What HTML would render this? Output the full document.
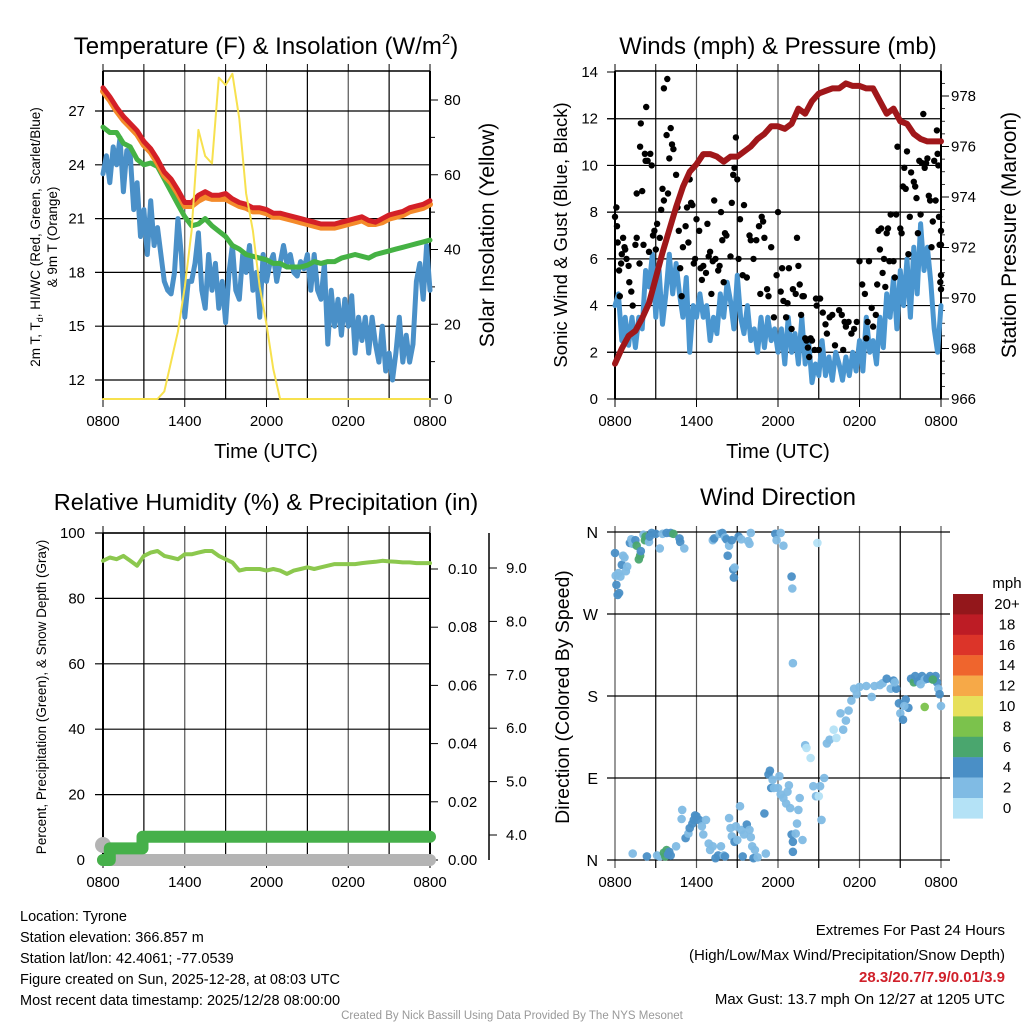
<!DOCTYPE html>
<html><head><meta charset="utf-8"><style>
html,body{margin:0;padding:0;background:#fff;}
svg{display:block;font-family:"Liberation Sans",sans-serif;}
</style></head><body>
<svg id="root" width="1024" height="1024" viewBox="0 0 1024 1024"></svg>
<script>
// ---------- DATA ----------
const hoursHalf = []; for (let i = 0; i <= 48; i++) hoursHalf.push(i * 0.5);
const hoursQ = []; for (let i = 0; i <= 96; i++) hoursQ.push(i * 0.25);
const xTickLabels = ["0800","1400","2000","0200","0800"];
const tempTicks = [12,15,18,21,24,27];
const solarTicks = [0,20,40,60,80];
const windTicks = [0,2,4,6,8,10,12,14];
const presTicks = [966,968,970,972,974,976,978];
const rhTicks = [0,20,40,60,80,100];
const precipTicks = [0,0.02,0.04,0.06,0.08,0.10];
const snowTicks = [4,5,6,7,8,9];
const dirTicks = ["N","E","S","W","N"];
const tempRed = [28.3,27.8,27.2,26.7,26.3,25.9,25.3,24.9,24.3,23.6,23.2,22.6,21.9,21.9,22.3,22.5,22.3,22.3,22.4,22.1,21.9,21.8,21.6,21.6,21.5,21.3,21.3,21.2,21.1,21.0,20.9,20.8,20.7,20.7,20.7,20.8,20.9,21.0,21.1,20.9,20.8,21.0,21.2,21.3,21.4,21.6,21.7,21.8,22.0];
const temp9m = [28.1,27.6,27.0,26.5,26.1,25.7,25.1,24.7,24.1,23.4,23.0,22.4,21.7,21.7,22.0,22.2,22.1,22.1,22.1,21.9,21.7,21.6,21.4,21.4,21.3,21.1,21.1,21.0,20.9,20.8,20.7,20.6,20.5,20.5,20.5,20.6,20.7,20.8,20.9,20.7,20.7,20.8,21.0,21.1,21.2,21.4,21.5,21.6,21.8];
const dewGreen = [26.1,25.8,25.8,25.2,25.0,24.3,24.0,24.1,23.9,23.2,22.5,21.8,21.1,20.6,20.7,21.0,20.6,20.3,20.0,19.5,19.3,19.0,18.9,18.8,18.7,18.5,18.5,18.3,18.3,18.3,18.4,18.6,18.5,18.6,18.6,18.8,18.9,19.0,18.9,18.8,19.0,19.1,19.2,19.3,19.4,19.5,19.6,19.7,19.8];
const windChill = [23.5,24.5,23,25,24,25.5,22.5,24.8,24.5,21.5,23,20,21.5,19,22,19.5,20.5,19,17.5,17,16.8,18,21,19,15.5,17.5,17.5,18.5,20.2,17,16,19,17,18.5,16,17.5,15.2,18,19.5,17,16.5,19,18,19.5,17,18,15.5,19,17.5,18.5,19,17.5,18.5,19.5,18.5,19,18,17.8,18.6,18.2,19,17,19,17,16.5,18.5,14,17,15,16.5,14.5,16.5,15,16.7,13.5,15.5,14.2,15.5,13.5,15.5,14,13,15,12.5,13.5,12,13.5,15.5,13,14.5,13,14,17.5,18.5,16.5,19.5,17];
const solar = [0,0,0,0,0,0,0,0,0,2,10,18,30,45,72,65,63,86,84,87,75,55,45,30,20,8,0,0,0,0,0,0,0,0,0,0,0,0,0,0,0,0,0,0,0,0,0,0,0];
const pressure = [967.4,968.0,968.5,968.7,969.2,969.8,970.8,971.8,972.7,973.6,974.4,975.0,975.3,975.7,975.7,975.6,975.4,975.6,975.6,975.8,976.0,976.3,976.5,976.8,976.8,976.7,976.9,977.5,977.3,977.8,978.1,978.2,978.3,978.3,978.5,978.4,978.4,978.3,978.3,977.8,977.3,977.5,977.0,976.9,976.5,976.3,976.2,976.2,976.2];
const windSpeed = [4.0,4.5,2.5,3.5,2.3,3.5,2.2,3.5,3.0,5.5,4.8,6.2,3.5,5.5,3.2,4.5,6.2,4.5,5.8,4.5,3.5,5.2,2.0,4.0,3.5,4.5,3.5,4.0,2.5,3.5,2.8,4.5,3.5,5.0,4.2,3.0,5.3,3.5,2.8,4.0,2.5,3.0,2.0,3.5,2.2,3.5,2.5,3.0,2.0,3.0,1.5,3.5,2.0,2.8,1.5,3.5,1.5,2.5,0.7,1.5,1.0,2.5,1.0,1.8,0.8,2.0,1.5,0.8,1.8,1.0,2.0,1.2,2.5,1.2,3.5,2.0,2.5,1.5,3.5,2.2,4.5,3.5,5.2,3.0,5.5,4.0,6.0,3.5,6.5,4.5,7.5,5.5,6.5,5.0,3.0,2.0,4.0];
const gustHour = [0,0.1,0.15,0.2,0.3,0.35,0.45,0.5,0.6,0.7,0.75,0.85,1,1.05,1.2,1.3,1.5,1.6,1.6,1.8,1.85,1.9,2.0,2.1,2.2,2.25,2.3,2.4,2.5,2.6,2.7,2.8,2.9,3.0,3.1,3.3,3.4,3.5,3.6,3.6,3.8,3.85,3.9,4.0,4.1,4.2,4.3,4.5,4.6,4.7,4.8,4.9,5.0,5.2,5.3,5.4,5.5,5.6,5.7,5.8,5.9,6.0,6.2,6.3,6.4,6.5,6.7,6.8,6.9,7.0,7.1,7.2,7.3,7.4,7.6,7.7,7.8,7.9,8.0,8.1,8.2,8.5,8.6,8.7,8.8,8.9,9.0,9.1,9.2,9.4,9.5,9.7,9.9,10.0,10.2,10.4,10.6,10.7,10.8,10.9,11.0,11.2,11.3,11.5,11.7,11.9,12.0,12.2,12.3,12.4,12.6,12.7,12.8,13.0,13.1,13.3,13.4,13.5,13.6,13.7,13.8,13.9,14.0,14.1,14.2,14.3,14.4,14.5,14.7,14.8,14.85,15.0,15.1,15.3,15.5,15.6,15.8,16.0,16.2,16.5,16.7,16.8,16.9,17.0,17.2,17.4,17.6,17.8,18.0,18.2,18.4,18.5,18.6,18.7,18.9,19.0,19.2,19.3,19.4,19.5,19.6,19.7,19.8,19.9,20.0,20.1,20.2,20.3,20.5,20.6,20.7,20.8,21.0,21.1,21.2,21.3,21.4,21.5,21.6,21.7,21.8,22.0,22.1,22.2,22.3,22.4,22.5,22.6,22.7,22.8,22.9,23.0,23.1,23.2,23.3,23.4,23.5,23.6,23.7,23.75,23.8,23.85,23.9,24.0,24.0,24.0,24.0,23.95];
const gustValue = [7.8,8.2,7.4,6.7,5.5,4.4,5.8,6.2,6.9,6.5,6.4,6.0,5.7,5.0,4.6,4.0,6.6,6.9,8.8,5.8,10.8,11.8,8.9,6.6,10.5,10.2,12.5,10.2,6.3,10.5,10.0,7.0,7.2,6.4,7.5,6.9,8.1,9.0,8.5,13.3,11.3,13.7,8.8,10.3,11.6,10.9,10.7,9.6,8.2,7.2,5.6,4.4,6.5,7.4,8.2,6.7,9.4,8.4,8.3,5.8,6.0,7.7,7.2,5.6,5.1,5.7,5.4,7.5,6.1,6.3,4.5,5.9,8.5,6.0,5.5,5.7,8.0,6.8,5.0,7.1,7.0,6.1,8.4,9.6,9.9,11.2,9.4,6.0,7.7,5.3,8.3,5.2,7.0,6.8,6.0,6.8,7.4,4.5,7.8,7.6,6.9,4.7,4.4,6.5,3.5,5.3,8.0,4.6,5.6,4.2,3.5,4.1,5.6,3.0,4.7,4.5,6.9,5.7,4.9,3.6,4.4,4.4,2.6,2.5,2.2,1.8,2.6,2.5,2.1,4.3,4.0,2.1,4.3,3.7,3.2,2.8,3.5,3.6,2.3,3.8,3.6,2.1,3.3,3.1,3.3,2.8,3.0,3.3,5.9,4.9,4.5,2.6,3.3,5.9,3.9,3.1,3.6,4.9,7.2,6.4,7.3,5.4,6.0,4.8,7.1,7.3,5.9,7.9,5.9,5.2,7.9,10.8,7.3,7.1,9.1,9.9,9.0,10.6,6.2,7.8,9.7,9.3,9.1,8.6,7.1,10.2,7.9,10.1,12.2,9.9,10.1,10.3,8.7,8.5,6.5,7.6,10.2,8.5,11.5,10.5,10.0,7.8,6.6,4.7,5.3,6.6,7.2,5.0];
const rh = [91.5,92.5,92,93,91.5,90,93,94,94.5,93,92.5,92,93.5,93.5,94,94.5,94.5,93,92,91,88.5,89,89,89,88.5,89,88.5,87.5,88.5,89,89.5,89,89.5,90,90.5,90.5,90.5,90.5,90.8,91,91.2,91.5,91.3,91.2,91,91,90.8,90.8,90.8];
const precipHour = [0,0.5,0.5,2.9,2.9,24];
const precipValue = [0,0,0.004,0.004,0.008,0.008];
const snowHour = [0,24];
const snowValue = [0,0];
const dirHour = [0,0.05,0.1,0.2,0.25,0.3,0.4,0.5,0.6,0.7,0.8,0.9,1.1,1.2,1.3,1.5,1.6,1.75,1.85,1.9,2.1,2.2,2.25,2.5,2.55,2.7,3.0,3.3,3.5,3.8,4.1,4.3,4.75,4.8,5.1,7.2,7.3,7.7,7.9,8.1,8.2,8.3,8.4,8.6,8.7,8.8,8.75,9.1,9.3,9.8,9.9,10.0,11.8,11.9,12.2,12.4,13.0,13.05,13.1,14.9,
 1.3,2.35,3.1,3.3,3.6,3.7,3.8,3.9,4.0,4.1,4.5,4.9,4.95,5.2,5.4,5.5,5.7,5.8,5.9,6.0,6.2,6.4,6.5,6.7,6.9,7.0,7.2,7.4,7.6,7.8,8.0,8.1,8.4,8.5,8.6,8.8,8.9,9.0,9.2,9.3,9.4,9.5,9.7,9.9,10.0,10.1,10.2,10.3,10.5,11.0,11.1,11.3,11.4,11.5,11.6,11.7,12.0,12.1,12.2,12.4,12.6,12.7,12.8,12.9,13.0,13.1,13.1,13.3,13.4,13.5,13.6,13.8,14.0,14.1,14.4,14.6,14.8,15.0,15.1,15.2,15.4,15.6,15.8,16.1,16.3,16.6,16.8,17.0,17.2,17.4,17.6,17.8,18.0,18.5,18.9,19.1,19.5,19.7,20.0,20.3,20.5,20.7,20.9,21.0,21.2,21.4,21.6,21.8,22.0,22.1,22.3,22.5,22.6,22.8,23.0,23.2,23.3,23.5,23.6,23.7,23.8,23.9,24.0,20.6,21.3,22.5,22.8,23.4];
const dirDeg = [337,312,302,291,315,293,311,324,334,332,317,322,348,352,347,351,345,330,334,339,357,351,355,349,355,359,358,342,358,359,359,358,353,349,342,351,353,358,359,354,352,334,345,351,319,321,310,355,352,350,347,359,358,351,359,345,311,298,216,348,
 7,4,5,4,8,4,11,6,9,5,15,45,55,24,29,35,40,44,49,48,44,37,28,44,18,11,15,2,5,15,5,4,46,35,26,20,37,22,59,33,4,28,39,33,25,15,2,11,3,51,7,94,98,79,88,79,79,92,72,68,62,75,82,57,28,20,9,29,40,55,68,22,126,123,112,81,70,70,81,44,90,128,132,143,134,161,143,153,164,175,188,182,190,191,179,191,192,194,199,188,197,188,172,161,154,176,167,199,195,202,196,198,202,198,199,202,199,199,202,195,188,182,169,195,169,193,168,198,199,196];
const dirSpeed = [4,3,4,4,3,4,3,4,3,3,3,3,4,3,3,4,6,6,6,4,3,7,6,3,4,4,4,3,3,4,4,6,4,4,3,3,4,3,4,3,4,4,3,4,4,3,5,4,3,2,3,3,4,3,3,3,4,3,3,1,
 3,4,3,2,6,6,6,5,4,5,3,3,3,4,3,4,5,4,5,5,4,3,3,3,3,3,3,5,4,3,3,4,3,3,3,4,3,3,3,3,5,3,4,3,3,3,4,3,3,5,2,4,5,4,3,3,3,3,3,3,3,3,3,3,4,4,5,3,3,3,3,3,3,1,1,3,3,1,3,3,3,3,3,1,1,3,3,3,3,3,3,3,2,3,3,3,3,3,4,3,5,4,4,3,5,4,5,4,6,5,4,4,4,3,5,4,5,4,4,4,3,4,3,3,3,3,8,7,7,8,8];
const cbLabels = ["20+","18","16","14","12","10","8","6","4","2","0"];
const cbColors = ["#93171b","#bd1c25","#dc3429","#ef652d","#f6a948","#e7e05b","#7bc24c","#4aa66e","#4a8fc6","#80bbe4","#b4e2f6"];

// ---------- HELPERS ----------
const NS = "http://www.w3.org/2000/svg";
const root = document.getElementById("root");
function mk(tag, attrs, name, parent) {
  const el = document.createElementNS(NS, tag);
  for (const k in attrs) el.setAttribute(k, attrs[k]);
  
  
  (parent || root).appendChild(el);
  return el;
}
function txt(x, y, s, size, anchor, name, extra) {
  const a = Object.assign({x: x, y: y, 'font-size': size, 'text-anchor': anchor || 'start', fill: '#000'}, extra || {});
  const t = mk('text', a, name);
  t.textContent = s;
  return t;
}
function vtxt(cx, cy, s, size, name) {
  const t = mk('text', {x: 0, y: 0, 'font-size': size, 'text-anchor': 'middle', transform: 'translate(' + cx + ',' + cy + ') rotate(-90)'}, name);
  t.textContent = s;
  return t;
}
function lin(x1, y1, x2, y2, stroke, w, name) {
  return mk('line', {x1: x1, y1: y1, x2: x2, y2: y2, stroke: stroke, 'stroke-width': w}, name);
}
function poly(xs, ys, sx, sy, stroke, w, name, cap) {
  const pts = xs.map((h, i) => sx(h).toFixed(1) + ',' + sy(ys[i]).toFixed(1)).join(' ');
  return mk('polyline', {points: pts, fill: 'none', stroke: stroke, 'stroke-width': w, 'stroke-linejoin': 'round', 'stroke-linecap': cap || 'round'}, name);
}
function panelFrame(p, hLines, nameP) {
  for (let i = 0; i <= 8; i++) {
    const x = p.x0 + (p.x1 - p.x0) * i / 8;
    lin(x, p.y0, x, p.y1, i % 2 ? '#000' : '#555', 1.2, nameP + '-vgrid');
    lin(x, p.y0 - 7, x, p.y0, '#000', 1, nameP + '-top-tick');
    if (i % 2 === 0) lin(x, p.y1, x, p.y1 + 8, '#000', 1, nameP + '-x-tick');
  }
  hLines.forEach(y => lin(p.x0 - 8, y, p.x1, y, '#000', 1.2, nameP + '-hgrid'));
  lin(p.x0, p.y0, p.x1, p.y0, '#000', 1.5, nameP + '-frame-top');
  lin(p.x0, p.y0, p.x0, p.y1, '#000', 2, nameP + '-frame-left');
  lin(p.x1, p.y0, p.x1, p.y1, '#000', 2, nameP + '-frame-right');
  lin(p.x0, p.y1, p.x1, p.y1, '#000', 1.5, nameP + '-frame-bottom');
  xTickLabels.forEach((l, i) => {
    txt(p.x0 + (p.x1 - p.x0) * i / 4, p.y1 + 27, l, 15, 'middle', nameP + '-x-tick-label');
  });
}

// ---------- PANEL 1: Temperature ----------
const p1 = {x0: 103, x1: 430, y0: 71, y1: 399};
const x1s = h => p1.x0 + (p1.x1 - p1.x0) * h / 24;
const t1s = v => 380 - (v - 12) * (269 / 15);
const s1s = v => 399 - v * (299 / 80);
panelFrame(p1, tempTicks.map(t1s), 'temp-panel');
tempTicks.forEach(v => txt(85, t1s(v) + 5, String(v), 15, 'end', 'temp-y-tick-label'));
solarTicks.forEach(v => { lin(p1.x1, s1s(v), p1.x1 + 8, s1s(v), '#000', 1, 'solar-y-tick'); txt(444, s1s(v) + 5, String(v), 15, 'start', 'solar-y-tick-label'); });
for (let v = 10; v < 88; v += 20) lin(p1.x1, s1s(v), p1.x1 + 5, s1s(v), '#000', 1, 'solar-minor-tick');
poly(hoursQ, windChill, x1s, t1s, '#4a90c8', 5, 'windchill-line-blue');
poly(hoursHalf, dewGreen, x1s, t1s, '#45b244', 5, 'dewpoint-line-green');
poly(hoursHalf, temp9m, x1s, t1s, '#f48a2a', 6, 'temp-9m-line-orange');
poly(hoursHalf, tempRed, x1s, t1s, '#d42027', 5, 'temp-2m-line-red');
poly(hoursHalf, solar, x1s, s1s, '#f7e14e', 2, 'solar-line-yellow');
txt(266, 54, 'Temperature (F) & Insolation (W/m', 24, 'middle', 'temp-panel-title').innerHTML = 'Temperature (F) &amp; Insolation (W/m<tspan dy="-10" font-size="15">2</tspan><tspan dy="10">)</tspan>';
txt(266, 458, 'Time (UTC)', 20, 'middle', 'temp-x-axis-title');
vtxt(40, 237, '2m T, T', 13.5, 'temp-y-axis-title').innerHTML = '2m T, T<tspan dy="3" font-size="9">d</tspan><tspan dy="-3">, HI/WC (Red, Green, Scarlet/Blue)</tspan>';
vtxt(57, 237, '& 9m T (Orange)', 13.5, 'temp-y-axis-title-line2');
vtxt(494, 235, 'Solar Insolation (Yellow)', 21, 'solar-y-axis-title');

// ---------- PANEL 2: Winds ----------
const p2 = {x0: 615, x1: 941, y0: 71, y1: 399};
const x2s = h => p2.x0 + (p2.x1 - p2.x0) * h / 24;
const w2s = v => 399 - v * (327 / 14);
const pr2s = v => 399 - (v - 966) * 25.25;
panelFrame(p2, windTicks.slice(1, 7).map(w2s), 'wind-panel');
windTicks.forEach(v => { lin(p2.x0 - 8, w2s(v), p2.x0, w2s(v), '#000', 1, 'wind-y-tick'); txt(598, w2s(v) + 5, String(v), 15, 'end', 'wind-y-tick-label'); });
presTicks.forEach(v => { lin(p2.x1, pr2s(v), p2.x1 + 8, pr2s(v), '#000', 1, 'pressure-y-tick'); txt(951, pr2s(v) + 5, String(v), 15, 'start', 'pressure-y-tick-label'); });
for (let v = 966.5; v < 979; v += 0.5) lin(p2.x1, pr2s(v), p2.x1 + 4, pr2s(v), '#000', 0.8, 'pressure-minor-tick');
poly(hoursQ, windSpeed, x2s, w2s, '#4a96d0', 5, 'sonic-wind-line-blue');
gustHour.forEach((h, i) => {
  const c = mk('circle', {cx: x2s(h).toFixed(1), cy: w2s(gustValue[i]).toFixed(1), r: 3.2, fill: '#000'}, 'gust-point');
});
poly(hoursHalf, pressure, x2s, pr2s, '#a0171a', 6, 'pressure-line-maroon');
txt(778, 54, 'Winds (mph) & Pressure (mb)', 24, 'middle', 'wind-panel-title');
txt(778, 458, 'Time (UTC)', 20, 'middle', 'wind-x-axis-title');
vtxt(567, 235, 'Sonic Wind & Gust (Blue, Black)', 18.5, 'wind-y-axis-title');
vtxt(1016, 235, 'Station Pressure (Maroon)', 21, 'pressure-y-axis-title');

// ---------- PANEL 3: RH & precip ----------
const p3 = {x0: 103, x1: 430, y0: 533, y1: 860};
const x3s = h => p3.x0 + (p3.x1 - p3.x0) * h / 24;
const r3s = v => 860 - v * 3.27;
const pc3s = v => 860 - v * 2910;
const sn3s = v => 835 - (v - 4) * 53.4;
panelFrame(p3, rhTicks.slice(1).map(r3s), 'rh-panel');
rhTicks.forEach(v => txt(85, r3s(v) + 5, String(v), 15, 'end', 'rh-y-tick-label'));
precipTicks.forEach(v => { lin(p3.x1, pc3s(v), p3.x1 + 8, pc3s(v), '#000', 1, 'precip-y-tick'); txt(448, pc3s(v) + 5, v.toFixed(2), 15, 'start', 'precip-y-tick-label'); });
lin(489, 533, 489, 860, '#000', 1.5, 'snow-axis-line');
snowTicks.forEach(v => { lin(489, sn3s(v), 497, sn3s(v), '#000', 1, 'snow-y-tick'); txt(506, sn3s(v) + 5, v.toFixed(1), 15, 'start', 'snow-y-tick-label'); });
poly(snowHour, snowValue, x3s, pc3s, '#b4b4b4', 12, 'snow-depth-line-gray');
mk('circle', {cx: x3s(0), cy: 845, r: 8, fill: '#b4b4b4'}, 'snow-depth-start-marker');
poly(precipHour, precipValue, x3s, pc3s, '#46b04a', 12, 'precip-line-green');
poly(hoursHalf, rh, x3s, r3s, '#8cc84e', 4, 'rh-line-lightgreen');
txt(266, 510, 'Relative Humidity (%) & Precipitation (in)', 23.5, 'middle', 'rh-panel-title');
vtxt(46, 697, 'Percent, Precipitation (Green), & Snow Depth (Gray)', 13.5, 'rh-y-axis-title');

// ---------- PANEL 4: Wind direction ----------
const p4 = {x0: 615, x1: 941, y0: 532, y1: 860};
const x4s = h => p4.x0 + (p4.x1 - p4.x0) * h / 24;
const d4s = v => 860 - v * (328 / 360);
for (let i = 0; i <= 8; i++) {
  const x = p4.x0 + (p4.x1 - p4.x0) * i / 8;
  lin(x, p4.y0 - 6, x, p4.y1 + 8, i % 2 ? '#000' : '#555', 1.2, 'dir-vgrid');
}
dirTicks.forEach((l, i) => {
  const y = d4s(i * 90);
  lin(607, y, 950, y, '#000', 1.2, 'dir-hgrid');
  txt(598, y + 6, l, 16, 'end', 'dir-y-tick-label');
});
xTickLabels.forEach((l, i) => txt(p4.x0 + (p4.x1 - p4.x0) * i / 4, 887, l, 15, 'middle', 'dir-x-tick-label'));
dirHour.forEach((h, i) => {
  const ci = Math.max(0, 10 - Math.min(10, Math.floor(dirSpeed[i] / 2)));
  mk('circle', {cx: x4s(h).toFixed(1), cy: d4s(dirDeg[i]).toFixed(1), r: 4.3, fill: cbColors[ci], 'fill-opacity': 0.95}, 'wind-direction-point');
});
txt(778, 505, 'Wind Direction', 24, 'middle', 'dir-panel-title');
vtxt(569, 697, 'Direction (Colored By Speed)', 19.5, 'dir-y-axis-title');
txt(1007, 588, 'mph', 15, 'middle', 'colorbar-title');
cbLabels.forEach((l, i) => {
  mk('rect', {x: 953, y: 594 + i * 20.4, width: 30, height: 20.6, fill: cbColors[i]}, 'colorbar-box');
  txt(1007, 594 + i * 20.4 + 15, l, 15, 'middle', 'colorbar-label');
});

// ---------- FOOTER ----------
const leftLines = ["Location: Tyrone","Station elevation: 366.857 m","Station lat/lon: 42.4061; -77.0539","Figure created on Sun, 2025-12-28, at 08:03 UTC","Most recent data timestamp: 2025/12/28 08:00:00"];
leftLines.forEach((s, i) => txt(20, 921 + i * 21, s, 14.5, 'start', 'station-info-line'));
txt(1005, 935, 'Extremes For Past 24 Hours', 15, 'end', 'extremes-title');
txt(1005, 960, '(High/Low/Max Wind/Precipitation/Snow Depth)', 15, 'end', 'extremes-subtitle');
txt(1005, 982, '28.3/20.7/7.9/0.01/3.9', 15, 'end', 'extremes-values', {fill: '#d0202a', 'font-weight': 'bold'});
txt(1005, 1004, 'Max Gust: 13.7 mph On 12/27 at 1205 UTC', 15, 'end', 'max-gust-text');
txt(512, 1019, 'Created By Nick Bassill Using Data Provided By The NYS Mesonet', 11.5, 'middle', 'credit-text', {fill: '#999'});
</script>
</body></html>
